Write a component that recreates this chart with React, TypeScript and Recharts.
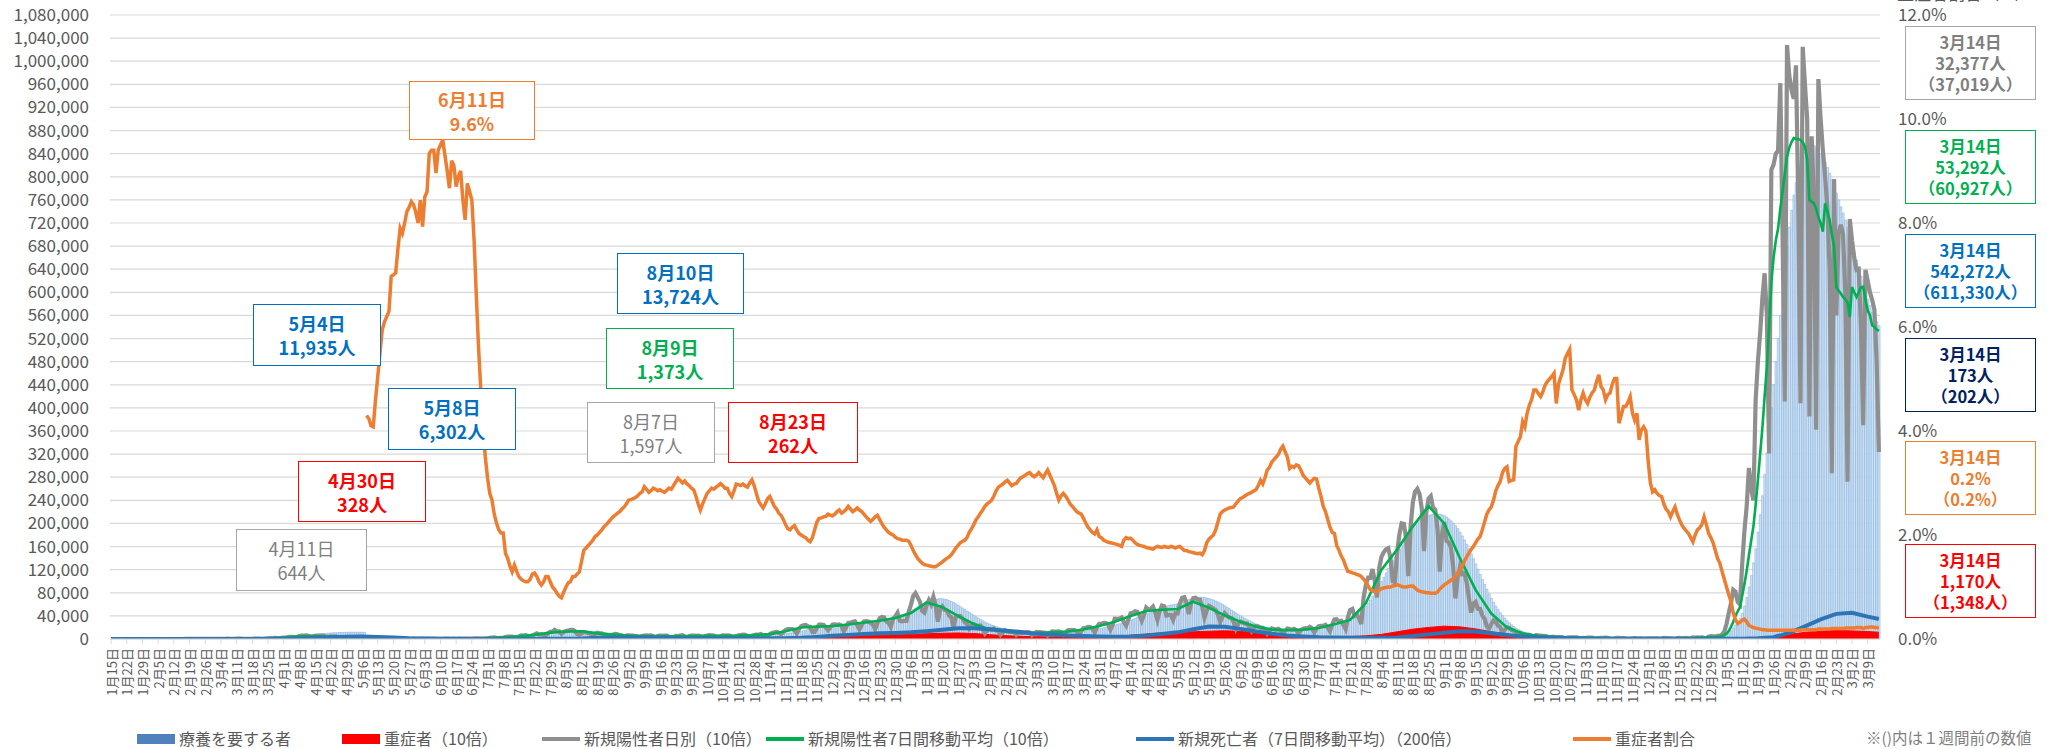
import React from 'react';
import { ComposedChart, Bar, Line, Area, XAxis, YAxis, CartesianGrid } from 'recharts';

const FONT = '"Noto Sans CJK JP", "Noto Sans", sans-serif';

// ---- categories: one per day, 2020-01-15 .. 2022-03-14 ----
const START_DATE_UTC = Date.UTC(2020, 0, 15);
const DAY_COUNT = 790;
const categories: string[] = Array.from({ length: DAY_COUNT }, (_, i) => {
  const d = new Date(START_DATE_UTC + i * 86400000);
  return `${d.getUTCMonth() + 1}月${d.getUTCDate()}日`;
});

// ---- axis ticks (left in thousands) ----
const leftTicks = Array.from({ length: 28 }, (_, i) => i * 40);
const rightTicks = [0, 2, 4, 6, 8, 10, 12];

// ---- 療養を要する者 (daily, thousands), one row per week (Wed..Tue) ----
const careWeeks: number[][] = [
  [0,0,0,0,0,0,0],[0,0,0,0,0,0.01,0.01],[0.01,0.01,0.01,0.01,0.01,0.02,0.02],[0.02,0.02,0.02,0.02,0.02,0.02,0.02],
  [0.03,0.04,0.05,0.06,0.06,0.07,0.08],[0.09,0.1,0.11,0.12,0.13,0.14,0.15],[0.16,0.17,0.18,0.19,0.2,0.21,0.22],
  [0.25,0.27,0.3,0.33,0.37,0.4,0.43],[0.46,0.5,0.53,0.55,0.58,0.6,0.62],[0.65,0.68,0.7,0.75,0.8,0.85,0.9],
  [1.0,1.1,1.2,1.4,1.6,1.7,1.9],[2.1,2.4,2.7,3.0,3.3,3.6,3.9],[4.3,4.8,5.3,5.9,6.4,6.8,7.2],
  [7.7,8.2,8.7,9.2,9.6,9.9,10.2],[10.5,10.8,11.0,11.2,11.3,11.4,11.5],[11.6,11.7,11.8,11.85,11.9,11.935,11.8],
  [11.6,11.4,6.302,6.0,5.8,5.6,5.3],[5.0,4.7,4.4,4.1,3.8,3.5,3.3],[3.0,2.8,2.6,2.4,2.2,2.0,1.9],
  [1.8,1.7,1.6,1.5,1.4,1.3,1.25],[1.2,1.15,1.1,1.05,1.0,0.98,0.95],[0.93,0.9,0.88,0.87,0.86,0.85,0.85],
  [0.85,0.86,0.87,0.88,0.9,0.92,0.95],[1.0,1.05,1.1,1.2,1.3,1.4,1.5],[1.6,1.8,2.0,2.2,2.4,2.6,2.8],
  [3.0,3.3,3.6,3.9,4.2,4.5,4.8],[5.1,5.5,5.9,6.4,6.9,7.3,7.7],[8.1,8.6,9.0,9.4,9.8,10.2,10.6],
  [11.0,11.4,11.8,12.2,12.5,12.8,13.0],[13.2,13.35,13.5,13.6,13.65,13.724,13.7],[13.6,13.4,13.2,13.0,12.8,12.5,12.2],
  [11.9,11.5,11.1,10.7,10.3,9.9,9.5],[9.1,8.7,8.4,8.1,7.8,7.5,7.2],[6.9,6.7,6.5,6.3,6.1,5.9,5.8],
  [5.6,5.5,5.4,5.3,5.2,5.1,5.0],[4.9,4.85,4.8,4.75,4.7,4.65,4.6],[4.6,4.6,4.6,4.6,4.6,4.6,4.6],
  [4.6,4.6,4.65,4.7,4.7,4.7,4.75],[4.8,4.85,4.9,4.9,4.9,4.9,4.9],[4.9,4.95,5.0,5.0,5.0,5.0,5.0],
  [5.1,5.2,5.3,5.4,5.5,5.5,5.6],[5.7,5.8,5.9,6.0,6.1,6.2,6.3],[6.5,6.8,7.1,7.4,7.8,8.2,8.6],
  [9.1,9.7,10.3,10.9,11.5,12.1,12.7],[13.5,14.5,15.5,16.5,17.4,18.2,18.8],[19.3,19.8,20.3,20.8,21.2,21.5,21.8],
  [22.1,22.4,22.7,23.0,23.3,23.5,23.7],[24.0,24.4,24.8,25.2,25.6,26.0,26.4],[26.9,27.5,28.1,28.7,29.3,29.8,30.3],
  [31.0,32.0,33.0,34.0,35.0,35.8,36.5],[37.5,39.0,40.5,42.0,43.5,45.0,46.5],[48.5,51.0,53.5,56.0,58.5,60.5,62.5],
  [64.5,66.0,67.3,68.3,69.0,69.5,69.8],[69.6,69.0,68.0,66.5,64.8,63.0,61.0],[58.5,56.0,53.5,51.0,48.5,46.0,43.5],
  [41.0,38.5,36.0,33.7,31.5,29.5,27.6],[25.8,24.2,22.8,21.5,20.3,19.2,18.2],[17.3,16.5,15.8,15.2,14.6,14.1,13.6],
  [13.2,12.9,12.6,12.3,12.0,11.8,11.6],[11.4,11.3,11.2,11.1,11.0,11.0,11.0],[11.0,11.0,11.1,11.2,11.3,11.4,11.5],
  [11.7,11.9,12.1,12.4,12.7,13.0,13.3],[13.7,14.2,14.7,15.3,15.9,16.5,17.1],[17.8,18.6,19.4,20.3,21.2,22.1,23.0],
  [24.0,25.2,26.4,27.6,28.8,30.0,31.3],[32.7,34.2,35.7,37.2,38.7,40.2,41.7],[43.3,45.0,46.7,48.3,49.9,51.4,52.8],
  [54.3,55.7,56.9,57.9,58.8,59.6,60.3],[61.2,62.5,64.0,65.6,67.2,68.6,69.8],[70.8,71.6,72.1,72.3,72.2,71.8,71.0],
  [70.0,68.8,67.4,65.8,64.0,62.0,59.8],[57.5,55.0,52.5,50.0,47.5,45.0,42.5],[40.0,37.8,35.6,33.5,31.5,29.6,27.8],
  [26.1,24.6,23.2,21.9,20.7,19.6,18.6],[17.7,17.0,16.4,15.9,15.5,15.2,15.0],[14.8,14.7,14.6,14.6,14.6,14.7,14.8],
  [15.0,15.3,15.6,16.0,16.4,16.8,17.3],[17.9,18.6,19.4,20.3,21.2,22.1,23.1],[24.3,25.7,27.2,28.8,30.4,32.0,33.8],
  [36.0,38.6,41.3,44.0,46.8,49.7,52.8],[57.0,62.0,67.5,73.5,79.5,85.5,92.0],[99.5,107.0,114.5,122.0,129.0,135.5,141.5],
  [148.0,155.0,162.5,170.0,177.0,183.5,189.5],[194,198,202,205,208,210.5,212.5],[214,215,216,216.5,216.5,216,215],
  [213.5,211,208,204.5,200.5,196,191],[185,178.5,171.5,164,156,147.5,139],[130,121,112,103,94.5,86,78],
  [70.5,63.5,57,51,45.5,40.5,36],[31.8,28,24.6,21.6,19,16.6,14.5],[12.7,11.1,9.7,8.5,7.5,6.6,5.8],
  [5.1,4.6,4.1,3.7,3.4,3.1,2.9],[2.7,2.5,2.35,2.2,2.1,2.0,1.9],[1.8,1.7,1.65,1.6,1.55,1.5,1.45],
  [1.4,1.35,1.3,1.28,1.25,1.22,1.2],[1.18,1.15,1.13,1.1,1.08,1.06,1.05],[1.04,1.03,1.02,1.01,1.0,0.99,0.98],
  [0.97,0.96,0.95,0.95,0.95,0.95,0.95],[0.95,0.95,0.96,0.97,0.98,0.99,1.0],[1.02,1.04,1.06,1.08,1.1,1.12,1.15],
  [1.2,1.25,1.3,1.35,1.4,1.45,1.5],[1.6,1.7,1.8,1.9,2.0,2.1,2.3],[2.6,2.9,3.3,3.7,4.2,4.8,5.8],
  [7.6,10.4,14.2,19.0,24.4,30.0,35.8],[45,57,72,90,110,132,156],[185,215,248,285,322,360,400],
  [440,480,520,560,600,640,680],[713,742,768,790,808,822,833],[842,848,852,855,854,851,846],
  [840,833,825,816,806,795,784],[772,760,748,737,725,712,695],[680,668,656,645,628,611.33,600],
  [588,577,566,557,549,542.272],
];

// ---- 新規陽性者日別 ×10 (daily, thousands) ----
const grayWeeks: number[][] = [
  [0,0,0,0,0,0,0],[0,0,0.01,0.01,0,0,0.01],[0.02,0.03,0.01,0,0,0,0.01],[0.01,0.01,0,0,0,0,0],
  [0.01,0.02,0.03,0.02,0.04,0.05,0.06],[0.08,0.1,0.12,0.1,0.15,0.08,0.12],[0.2,0.2,0.15,0.2,0.15,0.12,0.2],
  [0.3,0.35,0.4,0.5,0.4,0.3,0.35],[0.5,0.5,0.6,0.4,0.4,0.2,0.4],[0.4,0.5,0.6,0.5,0.4,0.3,0.7],
  [1.0,1.0,1.2,2.0,1.7,1.3,2.2],[2.6,2.3,3.5,3.7,3.8,2.6,3.5],[5.0,5.8,6.0,6.44,5.6,3.9,4.5],
  [5.4,5.8,5.7,5.8,5.6,3.7,3.8],[4.4,4.3,4.5,3.6,2.7,2.1,2.6],[2.4,2.0,2.0,2.6,2.1,1.8,1.2],
  [1.0,1.0,0.9,0.9,0.9,0.9,0.6],[0.6,0.5,0.9,0.6,0.3,0.3,0.3],[0.4,0.4,0.3,0.3,0.1,0.2,0.2],
  [0.3,0.4,0.5,0.4,0.3,0.4,0.5],[0.4,0.4,0.5,0.4,0.5,0.3,0.4],[0.4,0.4,0.6,0.5,0.5,0.4,0.5],
  [0.4,0.5,0.6,0.7,0.6,0.5,0.6],[0.6,1.0,1.1,1.0,1.3,0.9,1.2],[1.3,1.9,2.5,2.7,2.0,1.5,2.0],
  [2.0,3.6,4.3,4.0,4.1,2.5,3.4],[4.5,6.2,6.0,6.7,5.1,4.0,6.3],[7.9,9.8,7.7,8.3,6.7,6.0,9.8],
  [12.6,13.0,15.8,13.5,13.3,9.0,12.4],[13.6,14.5,15.97,15.7,13.8,8.7,7.0],[9.8,11.8,11.7,10.1,9.7,6.2,8.9],
  [10.8,10.3,10.0,7.8,7.2,4.9,7.4],[7.7,8.7,8.3,6.6,6.0,4.3,5.9],[6.1,5.8,6.0,5.1,4.2,3.1,5.1],
  [6.1,6.4,5.9,6.2,4.4,2.7,5.2],[5.8,5.3,5.9,5.8,3.7,3.2,3.0],[5.2,4.9,5.8,6.5,4.5,2.5,5.0],
  [6.0,6.0,5.6,5.7,4.6,3.0,5.0],[5.8,6.7,6.5,6.0,4.4,3.3,4.7],[6.3,6.0,6.3,6.1,4.1,3.3,4.9],
  [6.3,6.9,7.4,7.1,5.2,4.3,5.8],[7.0,7.7,7.3,8.6,6.1,4.9,6.0],[8.6,10.5,11.6,12.4,10.7,8.0,12.0],
  [15.5,17.0,17.3,17.3,15.0,9.5,16.9],[22.0,23.8,24.3,22.0,21.0,12.0,12.3],[19.2,25.0,25.1,24.2,20.0,15.0,20.3],
  [25.1,25.2,24.4,25.1,23.0,13.0,20.2],[28.1,28.1,30.0,30.5,24.0,16.7,24.2],[30.5,31.0,30.2,28.0,24.9,17.0,27.4],
  [36.0,38.0,37.3,30.2,28.0,21.0,35.4],[39.0,45.2,31.6,30.6,31.6,31.5,47.0],[59.5,74.6,79.57,72.0,64.4,48.8,45.6],
  [58.7,67.4,60.3,73.0,58.0,30.1,51.3],[56.5,50.4,49.1,40.8,37.4,20.6,38.5],[39.7,39.8,35.3,29.0,26.7,18.1,23.3],
  [25.7,23.3,22.9,23.3,17.5,9.7,15.3],[17.1,15.8,17.9,14.5,14.0,7.3,11.3],[15.3,13.1,12.2,12.7,12.1,7.0,10.2],
  [10.7,10.7,11.4,12.0,11.2,6.7,9.2],[12.3,11.8,11.8,10.9,10.7,6.1,9.7],[13.0,12.9,12.8,13.2,11.1,7.4,11.1],
  [14.9,15.2,15.2,15.2,13.3,8.2,14.0],[19.0,19.1,20.8,20.5,17.8,11.0,20.9],[26.4,26.4,27.9,27.5,24.9,16.2,24.6],
  [35.0,34.7,35.3,37.1,29.3,23.1,33.1],[44.5,45.5,48.1,46.9,41.2,31.6,42.2],[54.4,51.0,51.8,56.0,46.4,33.2,48.3],
  [57.9,56.7,40.5,41.8,41.5,33.0,44.7],[44.3,61.1,71.0,72.4,62.0,43.0,61.5],[70.6,71.4,68.5,67.7,55.0,36.8,49.2],
  [57.3,55.2,52.3,50.0,42.1,29.5,38.1],[44.7,40.6,37.0,36.4,29.5,17.9,26.5],[30.4,28.6,26.5,26.8,20.7,13.9,19.8],
  [22.3,21.7,19.5,19.4,16.0,9.4,13.8],[18.4,17.0,16.4,17.6,14.9,9.2,14.2],[18.2,17.3,16.0,17.6,15.3,9.9,15.4],
  [17.7,18.8,18.2,21.0,18.7,11.0,18.6],[22.1,22.7,22.8,24.5,19.5,13.7,25.0],[33.9,34.3,30.0,31.3,24.0,17.0,37.6],
  [50.2,52.0,40.0,42.3,35.7,26.0,71.2],[93.0,106.0,105.8,121.0,100.3,72.0,123.1],[142.3,150.0,155.3,157.4,140.5,100.0,98.5],
  [150.9,181.0,200.0,199.0,173.5,109.0,195.2],[236.6,255.0,259.9,251.0,225.3,152.0,219.4],[243.0,247.4,227.4,224.0,190.1,116.4,180.0],
  [202.4,169.9,167.3,158.4,125.4,70.2,106.4],[123.9,112.3,113.8,98.1,71.7,45.7,60.8],[64.1,52.3,52.2,40.4,35.0,22.0,17.7],
  [26.0,32.1,29.7,23.4,20.6,10.5,15.9],[19.9,19.3,15.8,14.4,11.4,5.9,10.3],[9.0,8.2,7.7,7.2,5.3,3.6,6.7],
  [6.3,6.1,5.3,5.1,4.2,2.5,3.9],[3.9,3.5,3.3,3.2,2.9,1.5,2.5],[3.0,2.8,2.8,2.9,2.0,0.9,1.9],
  [1.6,2.3,2.3,2.4,1.6,1.0,1.6],[2.1,1.9,2.2,2.0,1.3,0.8,1.2],[1.9,1.9,1.6,1.5,1.0,0.8,0.5],
  [1.1,1.4,1.2,1.2,1.1,0.6,0.9],[1.3,1.1,1.2,1.3,1.2,0.7,1.1],[1.9,1.4,1.4,1.3,1.0,0.8,1.4],
  [1.8,1.6,1.5,1.9,1.2,1.3,2.7],[2.4,2.7,2.6,2.8,2.2,1.7,3.9],[5.0,4.6,4.2,5.3,5.5,7.8,12.7],
  [26,45,62,85,82,64,60],[130,187,230,296,260,240,414],[480,529,590,633,560,321,812],
  [821,840,845,962,700,411,1028],[975,950,935,993,760,408,1025],[960,900,385,870,760,362,969],
  [900,846,800,748,640,287,796],[560,702,717,700,600,272,727],[690,660,639,640,540,370.19,639],
  [620,600,587,570,480,323.77],
];

// ---- 重症者割合 (%), daily from 2020-05-08; rows from the week of 2020-05-06 ----
const RATIO_FIRST_WEEK = 16;
const ratioWeeks: (number | null)[][] = [
  [null,null,4.3,4.24,4.1,4.08,4.6],[5.04,5.5,5.94,6.1,6.2,6.3,6.97],[7.0,7.04,7.5,7.9,7.8,8.0,8.22],
  [8.3,8.41,8.35,8.2,8.0,8.44,7.93],[8.5,8.6,9.34,9.4,9.4,8.96,9.4],[9.5,9.6,9.3,9.0,8.67,9.2,9.1],
  [8.7,8.9,9.0,8.44,8.06,8.76,8.6],[8.44,7.67,6.6,5.6,4.79,4.1,3.5],[3.1,2.8,2.67,2.4,2.23,2.1,2.04],
  [2.04,1.65,1.55,1.4,1.29,1.42,1.3],[1.2,1.15,1.12,1.1,1.1,1.15,1.25],[1.27,1.2,1.1,1.04,1.1,1.2,1.2],
  [1.1,1.0,0.95,0.88,0.82,0.79,0.9],[1.0,1.08,1.1,1.2,1.2,1.25,1.29],[1.5,1.71,1.75,1.8,1.85,1.9,1.97],
  [2.0,2.05,2.1,2.16,2.2,2.25,2.3],[2.35,2.38,2.42,2.45,2.5,2.54,2.6],[2.67,2.68,2.7,2.72,2.75,2.8,2.83],
  [2.93,2.88,2.82,2.85,2.9,2.88,2.85],[2.87,2.84,2.82,2.86,2.9,2.88,2.95],[3.02,3.09,3.05,3.0,3.04,2.98,2.95],
  [2.9,2.87,2.75,2.6,2.48,2.6,2.7],[2.8,2.85,2.9,2.88,2.92,2.95,2.99],[2.95,2.9,2.9,2.8,2.74,2.85,2.98],
  [2.97,2.95,2.98,2.94,2.92,3.0,3.06],[2.95,2.8,2.65,2.58,2.52,2.6,2.7],[2.74,2.65,2.55,2.5,2.42,2.38,2.3],
  [2.2,2.12,2.1,2.15,2.18,2.1,2.03],[2.0,1.97,1.95,1.9,1.87,1.95,2.1],[2.25,2.32,2.33,2.35,2.36,2.4,2.38],
  [2.37,2.4,2.45,2.48,2.42,2.45,2.49],[2.55,2.5,2.45,2.48,2.52,2.48,2.45],[2.4,2.35,2.3,2.26,2.3,2.35,2.38],
  [2.3,2.22,2.15,2.1,2.05,2.02,2.0],[1.96,1.93,1.92,1.9,1.9,1.9,1.88],[1.8,1.7,1.62,1.55,1.5,1.46,1.43],
  [1.42,1.41,1.4,1.39,1.39,1.42,1.45],[1.48,1.52,1.55,1.58,1.62,1.68,1.75],[1.8,1.85,1.88,1.9,1.95,2.05,2.12],
  [2.2,2.29,2.35,2.42,2.48,2.55,2.6],[2.63,2.67,2.75,2.85,2.92,2.95,2.98],[3.02,3.05,3.0,2.95,2.98,2.99,3.05],
  [3.1,3.12,3.15,3.18,3.2,3.15,3.12],[3.15,3.2,3.15,3.1,3.18,3.25,3.15],[3.05,2.95,2.8,2.67,2.75,2.8,2.75],
  [2.68,2.6,2.55,2.5,2.45,2.42,2.4],[2.32,2.23,2.15,2.1,2.05,2.02,2.1],[1.97,1.95,1.9,1.88,1.86,1.85,1.84],
  [1.83,1.82,1.8,1.78,1.9,1.95,1.93],[1.94,1.9,1.85,1.82,1.8,1.79,1.78],[1.76,1.75,1.74,1.73,1.76,1.78,1.77],
  [1.76,1.78,1.77,1.76,1.78,1.77,1.75],[1.77,1.78,1.74,1.7,1.7,1.68,1.67],[1.66,1.65,1.64,1.65,1.62,1.7,1.85],
  [1.92,1.96,2.0,2.1,2.25,2.4,2.45],[2.48,2.5,2.52,2.53,2.54,2.6,2.65],[2.7,2.72,2.75,2.78,2.8,2.82,2.85],
  [2.87,2.95,3.05,2.98,3.1,3.25,3.3],[3.4,3.45,3.5,3.55,3.65,3.71,3.6],[3.5,3.28,3.32,3.3,3.35,3.33,3.25],
  [3.15,3.1,3.05,3.0,3.05,3.09,3.08],[2.9,2.74,2.55,2.45,2.3,2.15,2.05],[2.03,1.8,1.71,1.6,1.52,1.4,1.3],
  [1.29,1.27,1.26,1.24,1.23,1.2,1.15],[1.1,1.02,0.95,0.93,0.91,0.91,0.94],[0.97,0.98,0.99,1.0,1.0,1.02,1.03],
  [1.04,1.03,1.01,1.0,1.0,1.01,1.02],[1.02,0.98,0.94,0.92,0.91,0.9,0.89],[0.89,0.88,0.88,0.88,0.9,0.96,1.0],
  [1.04,1.07,1.1,1.13,1.16,1.2,1.27],[1.33,1.4,1.5,1.58,1.65,1.72,1.78],[1.85,1.92,1.97,2.1,2.25,2.4,2.48],
  [2.54,2.67,2.85,2.95,3.03,3.2,3.28],[3.31,3.03,3.05,3.06,3.7,3.8,3.89],[4.18,4.08,4.34,4.5,4.6,4.79,4.79],
  [4.72,4.66,4.75,4.88,4.95,5.0,5.05],[5.11,4.53,4.9,5.04,5.17,5.4,5.49],[5.57,4.79,4.7,4.6,4.4,4.6,4.73],
  [4.6,4.53,4.65,4.73,4.79,4.95,5.08],[4.85,4.79,4.6,4.7,4.73,4.9,5.01],[5.01,4.15,4.3,4.47,4.47,4.55,4.66],
  [4.35,4.21,4.34,3.83,4.02,4.08,4.0],[3.44,3.0,2.83,2.87,2.8,2.76,2.74],[2.6,2.5,2.45,2.35,2.45,2.54,2.4],
  [2.29,2.2,2.13,2.08,2.03,1.95,1.87],[2.0,2.1,2.14,2.2,2.35,2.2,2.03],[1.95,1.85,1.7,1.55,1.46,1.3,1.15],
  [1.0,0.85,0.72,0.5,0.37,0.3,0.32],[0.36,0.38,0.33,0.26,0.24,0.22,0.21],[0.2,0.19,0.18,0.18,0.17,0.17,0.17],
  [0.17,0.17,0.17,0.17,0.17,0.17,0.17],[0.17,0.17,0.17,0.17,0.17,0.17,0.18],[0.18,0.18,0.18,0.18,0.18,0.18,0.19],
  [0.19,0.19,0.19,0.19,0.19,0.2,0.2],[0.2,0.2,0.2,0.2,0.21,0.21,0.21],[0.21,0.21,0.22,0.22,0.22,0.2,0.22],
  [0.22,0.23,0.23,0.22,0.22,0.21],
];

// ---- weekly readings (value on each Wednesday, thousands) + the last day ----
const severeWeekly = [
  0,0,0,0,0,0.05,0.1,0.2,0.4,0.5,
  0.6,0.8,1.2,2.0,2.8,3.28,3.0,2.3,1.6,1.0,
  0.7,0.6,0.5,0.4,0.35,0.35,0.4,0.6,1.0,1.5,
  2.2,2.55,2.5,2.1,1.8,1.6,1.4,1.4,1.5,1.5,
  1.6,1.7,1.9,2.2,2.8,3.8,5.0,5.6,6.0,6.5,
  6.8,8.0,9.0,10.0,10.4,9.5,7.5,5.8,4.6,4.0,
  3.5,3.3,3.3,3.8,4.8,6.5,8.5,10.5,11.5,12.5,
  13.5,14.2,13.2,10.5,8.0,6.5,5.2,4.5,4.3,4.5,
  5.5,8.0,12.5,17.0,20.0,22.2,21.0,17.5,12.5,8.5,
  5.5,3.5,2.3,1.5,1.1,0.9,0.7,0.6,0.5,0.4,
  0.3,0.3,0.4,0.6,1.2,2.2,4.5,8.0,11.5,13.5,
  14.5,14.0,12.9,
];
const severeLast = 11.7;

const deathsWeekly = [
  0,0,0,0,0,0,0,0.02,0.05,0.2,
  0.3,0.5,1.0,2.0,3.2,4.0,4.2,3.3,2.4,1.3,
  0.8,0.5,0.3,0.2,0.2,0.15,0.2,0.2,0.3,0.6,
  1.0,2.0,2.6,2.8,2.5,2.0,1.6,1.4,1.2,1.1,
  1.1,1.2,1.4,1.5,2.0,3.5,5.5,7.0,8.5,10.0,
  10.5,11.5,13.5,16.0,18.5,18.5,17.0,14.5,12.0,9.0,
  7.5,6.0,5.0,4.3,4.0,4.5,6.0,8.5,11.5,17.0,
  21.5,21.0,17.5,13.0,9.0,6.0,4.4,3.0,2.4,2.0,
  1.8,2.0,2.8,5.0,8.0,11.0,13.5,13.0,10.0,7.0,
  4.5,3.0,2.0,1.3,0.8,0.5,0.4,0.3,0.3,0.3,
  0.2,0.2,0.3,0.3,0.5,1.2,3.2,10.5,22.0,34.0,
  43.5,45.5,38.7,
];
const deathsLast = 34.6;

const greenWeekly = [
  0,0,0.01,0.01,0.03,0.1,0.16,0.35,0.45,0.45,
  1.0,2.5,4.5,5.3,4.0,2.4,1.2,0.6,0.3,0.35,
  0.4,0.45,0.55,0.8,1.5,2.8,4.6,7.2,11.0,13.0,
  13.3,9.8,7.6,5.8,5.3,5.0,4.8,5.2,5.5,5.6,
  5.8,6.8,8.5,13.5,20.0,21.5,22.5,25.0,28.5,31.5,
  36.5,45.0,63.5,55.0,40.0,26.0,17.0,13.0,10.5,10.6,
  11.5,13.0,16.5,22.5,30.0,40.0,48.5,50.5,52.0,64.5,
  54.0,41.0,30.0,21.5,16.2,15.3,16.3,19.0,25.5,33.0,
  62.0,120.0,155.0,195.0,230.0,200.0,140.0,85.0,44.0,20.0,
  9.5,5.5,3.7,2.6,2.0,1.7,1.4,1.2,1.2,1.3,
  1.6,2.1,3.5,
];
// daily readings of the 7-day average from 2022-01-01
const GREEN_DAILY_START = 717;
const greenDaily = [
  4.0,4.3,5.0,6.5,9.5,14,21,
  30,40,48,55,75,95,118,
  145,170,195,232,275,320,365,
  420,471,540,616,660,690,710,
  745,774,805,835,850,860,867,
  866,865,864,860,852,830,760,
  757,754,745,730,720,705,754,
  740,725,700,679,609,603,598,
  592,588,583,557,609,600,592,
  600,609,609.27,588,569,560,543,
  540,536,532.92,
];

// ---- table for the chart ----
const careDaily = careWeeks.flat();
const grayDaily = grayWeeks.flat();
const ratioDaily: (number | null)[] = [
  ...Array(RATIO_FIRST_WEEK * 7).fill(null),
  ...ratioWeeks.flat(),
];
const rows = categories.map((date, i) => {
  const w = i % 7 === 0 ? i / 7 : -1;
  const last = i === DAY_COUNT - 1;
  return {
    date,
    care: careDaily[i] ?? null,
    gray: grayDaily[i] ?? null,
    ratio: ratioDaily[i] ?? null,
    severe: w >= 0 ? severeWeekly[w] : last ? severeLast : null,
    deaths: w >= 0 ? deathsWeekly[w] : last ? deathsLast : null,
    green: i >= GREEN_DAILY_START ? greenDaily[i - GREEN_DAILY_START] : w >= 0 ? greenWeekly[w] ?? null : null,
  };
});

// ---- annotations ----
const inPlotNotes = [
  { x: 409, y: 81, w: 126, h: 59, color: '#ed7d31', text: '#ed7d31', bold: true, lines: ['6月11日', '9.6%'] },
  { x: 253, y: 304, w: 128, h: 62, color: '#0070c0', text: '#0070c0', bold: true, lines: ['5月4日', '11,935人'] },
  { x: 388, y: 388, w: 128, h: 62, color: '#0070c0', text: '#0070c0', bold: true, lines: ['5月8日', '6,302人'] },
  { x: 298, y: 461, w: 128, h: 61, color: '#ff0000', text: '#ff0000', bold: true, lines: ['4月30日', '328人'] },
  { x: 236, y: 529, w: 131, h: 62, color: '#a6a6a6', text: '#7f7f7f', bold: false, lines: ['4月11日', '644人'] },
  { x: 617, y: 253, w: 127, h: 61, color: '#0070c0', text: '#0070c0', bold: true, lines: ['8月10日', '13,724人'] },
  { x: 606, y: 328, w: 128, h: 61, color: '#00b050', text: '#00b050', bold: true, lines: ['8月9日', '1,373人'] },
  { x: 587, y: 402, w: 128, h: 61, color: '#a6a6a6', text: '#7f7f7f', bold: false, lines: ['8月7日', '1,597人'] },
  { x: 728, y: 402, w: 130, h: 61, color: '#ff0000', text: '#ff0000', bold: true, lines: ['8月23日', '262人'] },
];
const sideNotes = [
  { y: 26, color: '#a6a6a6', text: '#7f7f7f', lines: ['3月14日', '32,377人', '（37,019人）'] },
  { y: 130, color: '#00b050', text: '#00b050', lines: ['3月14日', '53,292人', '（60,927人）'] },
  { y: 234, color: '#0070c0', text: '#0070c0', lines: ['3月14日', '542,272人', '（611,330人）'] },
  { y: 338, color: '#002060', text: '#002060', lines: ['3月14日', '173人', '（202人）'] },
  { y: 441, color: '#ed7d31', text: '#ed7d31', lines: ['3月14日', '0.2%', '（0.2%）'] },
  { y: 544, color: '#ff0000', text: '#ff0000', lines: ['3月14日', '1,170人', '（1,348人）'] },
];
const legendItems = [
  { x: 137, kind: 'rect', color: '#4f81bd', label: '療養を要する者' },
  { x: 342, kind: 'rect', color: '#ff0000', label: '重症者（10倍）' },
  { x: 542, kind: 'line', color: '#8f8f8f', label: '新規陽性者日別（10倍）' },
  { x: 766, kind: 'line', color: '#00b050', label: '新規陽性者7日間移動平均（10倍）' },
  { x: 1136, kind: 'line', color: '#2e75b6', label: '新規死亡者（7日間移動平均）（200倍）' },
  { x: 1573, kind: 'line', color: '#ed7d31', label: '重症者割合' },
];

const XTick = (props: any) => {
  const { x, y, payload } = props;
  const ty = y + 2;
  return (
    <text
      x={x}
      y={ty}
      transform={`rotate(-90, ${x}, ${ty})`}
      textAnchor="end"
      dominantBaseline="central"
      fontSize={13}
      fill="#595959"
      fontFamily={FONT}
    >
      {payload.value}
    </text>
  );
};

const NoteBox = ({ x, y, w, h, color, text, bold, lines, fontSize, lineHeight }: any) => (
  <div
    style={{
      position: 'absolute', left: x, top: y, width: w, height: h, boxSizing: 'border-box',
      border: `1.6px solid ${color}`, background: '#ffffff', color: text,
      fontWeight: bold ? 700 : 400, fontSize, lineHeight: `${lineHeight}px`, fontFamily: FONT,
      display: 'flex', flexDirection: 'column', alignItems: 'center', justifyContent: 'center',
      whiteSpace: 'nowrap',
    }}
  >
    {lines.map((l: string, k: number) => <div key={k}>{l}</div>)}
  </div>
);

export default function App() {
  return (
    <div style={{ position: 'absolute', left: 0, top: 0, width: 2047, height: 749, background: '#ffffff', overflow: 'hidden', fontFamily: FONT }}>
      <ComposedChart
        width={2047}
        height={749}
        data={rows}
        margin={{ top: 15, right: 10, bottom: 20, left: 0 }}
        barCategoryGap="14%"
      >
        <CartesianGrid vertical={false} yAxisId="left" stroke="#d9d9d9" strokeWidth={1.2} />
        <XAxis
          dataKey="date"
          interval={6}
          tick={<XTick />}
          tickSize={5}
          tickLine={{ stroke: '#d9d9d9' }}
          axisLine={{ stroke: '#d9d9d9' }}
          height={90}
        />
        <YAxis
          yAxisId="left"
          domain={[0, 1080]}
          ticks={leftTicks}
          interval={0}
          allowDataOverflow
          tickFormatter={(v: number) => (v * 1000).toLocaleString('en-US')}
          axisLine={false}
          tickLine={false}
          tickSize={0}
          tickMargin={21}
          width={110}
          tick={{ fontSize: 17, fill: '#595959', fontFamily: FONT }}
        />
        <YAxis
          yAxisId="right"
          orientation="right"
          domain={[0, 12]}
          ticks={rightTicks}
          interval={0}
          allowDataOverflow
          tickFormatter={(v: number) => `${v.toFixed(1)}%`}
          axisLine={false}
          tickLine={false}
          tickSize={0}
          tickMargin={18}
          width={157}
          tick={{ fontSize: 17, fill: '#595959', fontFamily: FONT, textAnchor: 'start' }}
        />
        <Bar yAxisId="left" dataKey="care" fill="#d3e3f4" stroke="#78aadb" strokeWidth={0.5} isAnimationActive={false} zIndex={300} />
        <Area yAxisId="left" dataKey="severe" type="linear" connectNulls fill="#ff0000" fillOpacity={1} stroke="#ff0000" strokeWidth={1} dot={false} activeDot={false} isAnimationActive={false} zIndex={350} />
        <Line yAxisId="left" dataKey="gray" type="linear" stroke="#8f8f8f" strokeWidth={4.2} dot={false} activeDot={false} isAnimationActive={false} zIndex={400} />
        <Line yAxisId="left" dataKey="green" type="linear" connectNulls stroke="#00b050" strokeWidth={2.6} dot={false} activeDot={false} isAnimationActive={false} zIndex={410} />
        <Line yAxisId="left" dataKey="deaths" type="linear" connectNulls stroke="#2e75b6" strokeWidth={4} dot={false} activeDot={false} isAnimationActive={false} zIndex={420} />
        <Line yAxisId="right" dataKey="ratio" type="linear" stroke="#ed7d31" strokeWidth={3.5} dot={false} activeDot={false} isAnimationActive={false} zIndex={430} />
      </ComposedChart>

      {/* clipped right-axis title at the very top */}
      <div style={{ position: 'absolute', left: 1897, top: -18, fontSize: 17, lineHeight: '22px', color: '#595959', whiteSpace: 'nowrap' }}>重症者割合（%）</div>

      {inPlotNotes.map((n, k) => (
        <NoteBox key={k} {...n} fontSize={18} lineHeight={24} />
      ))}
      {sideNotes.map((n, k) => (
        <NoteBox key={k} x={1905} y={n.y} w={131} h={74} color={n.color} text={n.text} bold lines={n.lines} fontSize={16.5} lineHeight={21} />
      ))}

      {legendItems.map((it, k) => (
        <div key={k} style={{ position: 'absolute', left: it.x, top: 729, height: 19, display: 'flex', alignItems: 'center', whiteSpace: 'nowrap' }}>
          {it.kind === 'rect'
            ? <div style={{ width: 38, height: 10, background: it.color }} />
            : <div style={{ width: 38, height: 4, background: it.color }} />}
          <span style={{ marginLeft: 4, fontSize: 16, lineHeight: '19px', color: '#595959' }}>{it.label}</span>
        </div>
      ))}
      <div style={{ position: 'absolute', left: 1866, top: 727, fontSize: 15.5, lineHeight: '20px', color: '#7f7f7f', whiteSpace: 'nowrap' }}>※()内は１週間前の数値</div>
    </div>
  );
}
